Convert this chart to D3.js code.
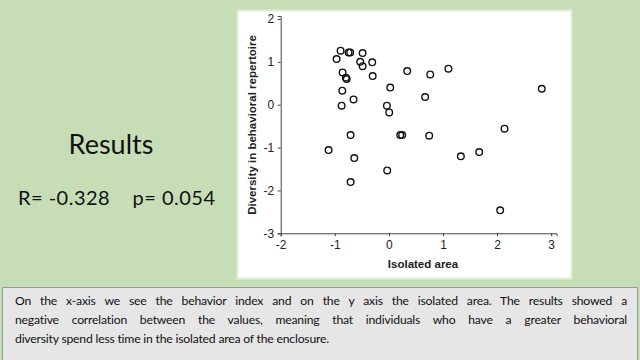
<!DOCTYPE html>
<html><head><meta charset="utf-8">
<script src="https://cdn.jsdelivr.net/npm/d3@7"></script>
<style>
html,body{margin:0;padding:0;background:#c7ddb6;}
body{width:640px;height:360px;overflow:hidden;position:relative;}
#txt{position:absolute;left:2px;top:287px;width:636px;height:73px;box-sizing:border-box;background:#e6e6e6;border:1px solid #9a9a9a;border-bottom:none;
font-family:Lato,"Open Sans",sans-serif;font-size:12.2px;letter-spacing:-0.2px;line-height:19px;color:#111;padding:3px 10px 0 12px;}
#txt div{text-align:justify;text-align-last:justify;white-space:nowrap;}
#txt div.last{text-align-last:left;}
</style></head><body>
<svg id="c" width="640" height="360" style="position:absolute;left:0;top:0"></svg>
<div id="txt"></div>
<script>
const xVals = [-0.893,-0.745,-0.715,-0.486,-0.967,-0.53,-0.308,-0.486,-0.856,-0.30,-0.795,-0.780,0.339,0.764,1.10,0.025,-0.862,-0.653,-0.874,-0.037,0.006,0.67,2.826,-0.708,0.21,0.245,0.745,2.137,-1.115,-0.640,1.33,1.669,-0.031,-0.708,2.057];
const yVals = [1.26,1.22,1.22,1.205,1.065,1.0,0.99,0.90,0.754,0.669,0.63,0.60,0.785,0.708,0.84,0.40,0.327,0.124,-0.023,-0.023,-0.18,0.18,0.373,-0.708,-0.708,-0.708,-0.723,-0.56,-1.058,-1.244,-1.205,-1.104,-1.532,-1.804,-2.465];
const xTicks = [-2,-1,0,1,2,3];
const yTicks = [-3,-2,-1,0,1,2];
const xTitle = "Isolated area";
const yTitle = "Diversity in behavioral repertoire";
const heading = "Results";
const stats = "R= -0.328    p= 0.054";
const captionLines = [
  "On the x-axis we see the behavior index and on the y axis the isolated area. The results showed a",
  "negative correlation between the values, meaning that individuals who have a greater behavioral",
  "diversity spend less time in the isolated area of the enclosure."
];

const svg = d3.select("#c");
svg.append("rect").attr("x",237.5).attr("y",10.5).attr("width",334).attr("height",268).attr("fill","#ffffff").attr("stroke","#e2edd8").attr("stroke-width",2);

const x = d3.scaleLinear().domain([-2,3.1]).range([280.7,556.6]);
const y = d3.scaleLinear().domain([-3,2.07]).range([233.3,16]);
const fmt = d => String(d);

const gx = svg.append("g").attr("transform","translate(0,233.3)")
  .call(d3.axisBottom(x).tickValues(xTicks).tickSize(3).tickFormat(fmt));
const gy = svg.append("g").attr("transform","translate(280.7,0)")
  .call(d3.axisLeft(y).tickValues(yTicks).tickSize(3).tickFormat(fmt));
[gx,gy].forEach(g=>{
  g.select(".domain").attr("stroke","#444");
  g.selectAll(".tick line").attr("stroke","#444");
  g.selectAll(".tick text").attr("font-family","Liberation Sans, Arial, sans-serif").attr("font-size",12).attr("fill","#222");
});
gx.selectAll(".tick text").attr("dy","0.8em");
gy.selectAll(".tick text").attr("dx","-0.05em");

svg.append("text").attr("x",423).attr("y",268).attr("text-anchor","middle")
  .attr("font-family","Liberation Sans, Arial, sans-serif").attr("font-weight","bold").attr("font-size",11.5).attr("fill","#222").text(xTitle);
svg.append("text").attr("transform","translate(256,125) rotate(-90)").attr("text-anchor","middle")
  .attr("font-family","Liberation Sans, Arial, sans-serif").attr("font-weight","bold").attr("font-size",11.5).attr("fill","#222").text(yTitle);

svg.append("g").selectAll("circle").data(xVals.map((v,i)=>[v,yVals[i]])).join("circle")
  .attr("cx",d=>x(d[0])).attr("cy",d=>y(d[1])).attr("r",3.3)
  .attr("fill","none").attr("stroke","#111").attr("stroke-width",1.4);

svg.append("text").attr("x",111).attr("y",154).attr("text-anchor","middle")
  .attr("font-family","Lato, Open Sans, sans-serif").attr("font-size",27).attr("fill","#111").text(heading);
svg.append("text").attr("x",18).attr("y",205).style("white-space","pre")
  .attr("font-family","Lato, Open Sans, sans-serif").attr("font-size",20).attr("textLength",197).attr("fill","#111").text(stats);

d3.select("#txt").selectAll("div").data(captionLines).join("div")
  .classed("last",(d,i)=>i===captionLines.length-1).text(d=>d);
</script></body></html>
